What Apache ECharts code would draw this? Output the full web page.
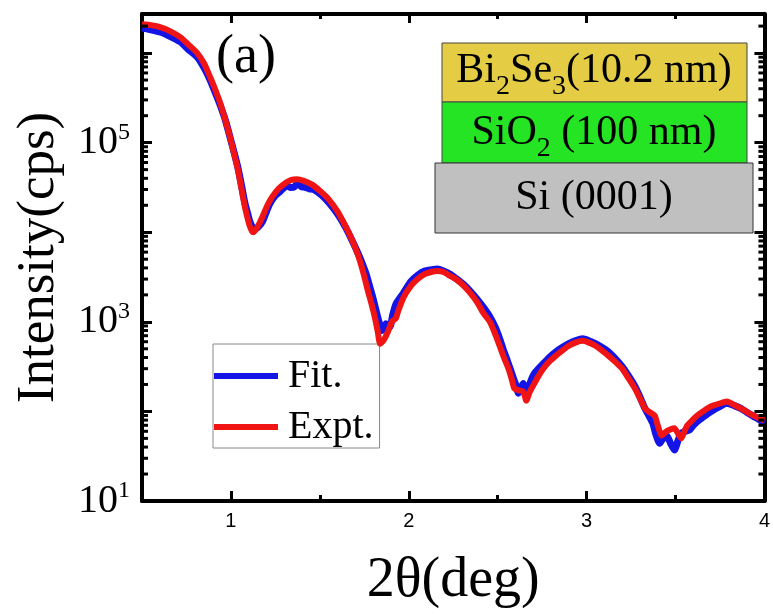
<!DOCTYPE html>
<html>
<head>
<meta charset="utf-8">
<script src="https://cdn.jsdelivr.net/npm/echarts@6/dist/echarts.min.js"></script>
<style>
  html, body { margin: 0; padding: 0; background: #fff; }
  #chart { width: 773px; height: 614px; }
</style>
</head>
<body>
<div id="chart"></div>
<script>
// axis range
const xMin = 0.5;
const xMax = 4.0;
const yMin = 10;
const yMax = 2.73e6;

const xMajorTicks = [1, 2, 3, 4];
const xMinorTicks = [1.5, 2.5, 3.5];
const yLabelExps = [1, 3, 5];

// Expt. (red)
const exptX = [0.50, 0.55, 0.606, 0.66, 0.717, 0.76, 0.811, 0.85, 0.883, 0.91, 0.939, 0.97, 0.994, 1.02, 1.039, 1.06, 1.078, 1.095, 1.106, 1.118, 1.128, 1.15, 1.178, 1.205, 1.233, 1.27, 1.311, 1.34, 1.372, 1.41, 1.456, 1.50, 1.55, 1.60, 1.644, 1.68, 1.717, 1.745, 1.772, 1.79, 1.811, 1.825, 1.839, 1.86, 1.883, 1.905, 1.928, 1.939, 1.97, 2.011, 2.05, 2.089, 2.125, 2.161, 2.195, 2.233, 2.27, 2.311, 2.345, 2.383, 2.42, 2.456, 2.485, 2.511, 2.535, 2.561, 2.58, 2.594, 2.62, 2.644, 2.661, 2.68, 2.70, 2.725, 2.756, 2.79, 2.828, 2.865, 2.90, 2.94, 2.978, 3.01, 3.05, 3.085, 3.122, 3.16, 3.20, 3.235, 3.272, 3.30, 3.328, 3.355, 3.383, 3.40, 3.422, 3.45, 3.472, 3.494, 3.515, 3.533, 3.55, 3.567, 3.595, 3.622, 3.66, 3.70, 3.745, 3.789, 3.83, 3.867, 3.90, 3.939, 3.97, 4.0];
const exptY = [2.10e6, 2.05e6, 1.94e6, 1.75e6, 1.50e6, 1.25e6, 1.0e6, 7.6e5, 5.4e5, 4.0e5, 2.8e5, 1.75e5, 1.17e5, 7.2e4, 5.0e4, 3.0e4, 1.95e4, 1.4e4, 1.17e4, 1.03e4, 1.0e4, 1.15e4, 1.5e4, 2.0e4, 2.5e4, 3.1e4, 3.6e4, 3.85e4, 3.9e4, 3.75e4, 3.4e4, 2.9e4, 2.33e4, 1.7e4, 1.17e4, 8.3e3, 5.4e3, 3.5e3, 2.15e3, 1.6e3, 1.08e3, 790, 570, 630, 774, 1000, 1100, 1290, 1860, 2500, 3000, 3400, 3600, 3690, 3600, 3250, 2950, 2500, 2100, 1670, 1250, 1000, 740, 540, 400, 300, 225, 180, 172, 167, 132, 165, 195, 240, 300, 360, 420, 480, 540, 590, 615, 590, 540, 480, 420, 360, 300, 235, 180, 140, 108, 98, 90, 70, 54, 60, 63, 65, 56, 50, 60, 70, 80, 90, 102, 114, 122, 129, 118, 108, 99, 90, 84, 79];

// Fit. (blue)
const fitX = [0.50, 0.55, 0.606, 0.66, 0.717, 0.76, 0.811, 0.85, 0.883, 0.91, 0.939, 0.97, 0.994, 1.02, 1.039, 1.06, 1.078, 1.095, 1.106, 1.12, 1.133, 1.155, 1.178, 1.20, 1.217, 1.245, 1.272, 1.295, 1.317, 1.336, 1.356, 1.37, 1.383, 1.40, 1.411, 1.44, 1.467, 1.51, 1.55, 1.60, 1.644, 1.68, 1.717, 1.74, 1.761, 1.78, 1.80, 1.828, 1.85, 1.872, 1.894, 1.91, 1.928, 1.967, 2.011, 2.05, 2.089, 2.125, 2.161, 2.195, 2.233, 2.27, 2.311, 2.345, 2.383, 2.42, 2.456, 2.485, 2.511, 2.53, 2.55, 2.57, 2.589, 2.605, 2.617, 2.632, 2.644, 2.655, 2.667, 2.685, 2.706, 2.73, 2.756, 2.79, 2.828, 2.865, 2.90, 2.94, 2.978, 3.01, 3.05, 3.085, 3.122, 3.16, 3.20, 3.235, 3.272, 3.30, 3.328, 3.35, 3.372, 3.39, 3.411, 3.43, 3.45, 3.47, 3.494, 3.515, 3.533, 3.555, 3.578, 3.60, 3.622, 3.66, 3.70, 3.745, 3.789, 3.83, 3.867, 3.90, 3.939, 3.97, 4.0];
const fitY = [1.90e6, 1.82e6, 1.71e6, 1.53e6, 1.33e6, 1.10e6, 9.0e5, 6.8e5, 5.0e5, 3.7e5, 2.64e5, 1.75e5, 1.17e5, 7.5e4, 5.3e4, 3.3e4, 2.15e4, 1.6e4, 1.32e4, 1.15e4, 1.08e4, 1.15e4, 1.32e4, 1.7e4, 2.05e4, 2.5e4, 2.8e4, 3.1e4, 3.3e4, 3.15e4, 3.2e4, 3.45e4, 3.4e4, 3.2e4, 3.2e4, 3.05e4, 3.0e4, 2.6e4, 2.15e4, 1.6e4, 1.14e4, 8.2e3, 5.7e3, 4.4e3, 3.4e3, 2.5e3, 1.8e3, 1.08e3, 800, 950, 880, 1200, 1580, 2050, 2800, 3300, 3690, 3800, 3880, 3700, 3400, 3000, 2580, 2200, 1800, 1450, 1140, 880, 650, 500, 390, 300, 233, 190, 160, 185, 205, 180, 160, 215, 264, 300, 341, 400, 464, 520, 570, 620, 648, 620, 570, 520, 464, 390, 316, 250, 190, 145, 108, 90, 74, 55, 44, 50, 54, 45, 37, 48, 57, 60, 62, 70, 77, 88, 100, 112, 123, 116, 108, 98, 88, 81, 74];

const zip = (xs, ys) => xs.map((x, i) => [x, ys[i]]);

// log minor ticks (2..9 per decade)
const yMinor = [];
for (let e = 1; e <= 6; e++) {
  for (let m = 2; m <= 9; m++) {
    const v = m * Math.pow(10, e);
    if (v < yMax) yMinor.push([xMin, v]);
  }
}

const serif = "'Liberation Serif', 'Times New Roman', serif";
const axisLine = { show: true, lineStyle: { color: '#000', width: 4 } };

const baseX = {
  type: 'value', min: xMin, max: xMax, interval: 0.5,
  splitLine: { show: false },
};

const chart = echarts.init(document.getElementById('chart'));
chart.setOption({
  animation: false,
  backgroundColor: '#fff',
  grid: { left: 142, right: 2, top: 14, bottom: 111 },
  legend: {
    data: ['Fit.', 'Expt.'],
    orient: 'vertical',
    left: 213, top: 344,
    padding: [12, 6, 1, 1],
    itemGap: 11,
    itemWidth: 64, itemHeight: 6,
    icon: 'rect',
    borderColor: '#888', borderWidth: 1,
    backgroundColor: '#fff',
    textStyle: { fontFamily: serif, fontSize: 40, color: '#000', padding: [0, 0, 0, 5] }
  },
  xAxis: [
    Object.assign({}, baseX, {
      position: 'bottom',
      axisLine: axisLine,
      axisTick: { inside: true, length: 10, lineStyle: { color: '#000', width: 3 }, customValues: xMajorTicks },
      axisLabel: { customValues: xMajorTicks, fontFamily: "'Liberation Sans', Arial, sans-serif", fontSize: 20, color: '#000', margin: 10 },
      name: '2θ(deg)', nameLocation: 'middle', nameGap: 52,
      nameTextStyle: { fontFamily: serif, fontSize: 56, color: '#000' }
    }),
    Object.assign({}, baseX, {
      position: 'bottom',
      axisLine: { show: false },
      axisTick: { inside: true, length: 6, lineStyle: { color: '#000', width: 3 }, customValues: xMinorTicks },
      axisLabel: { show: false }
    }),
    Object.assign({}, baseX, {
      position: 'top',
      axisLine: axisLine,
      axisTick: { inside: true, length: 9, lineStyle: { color: '#000', width: 3 }, customValues: xMajorTicks },
      axisLabel: { show: false }
    }),
    Object.assign({}, baseX, {
      position: 'top',
      axisLine: { show: false },
      axisTick: { inside: true, length: 5, lineStyle: { color: '#000', width: 3 }, customValues: xMinorTicks },
      axisLabel: { show: false }
    })
  ],
  yAxis: [
    {
      type: 'log', logBase: 10, min: yMin, max: yMax, interval: 1,
      position: 'left',
      axisLine: axisLine,
      splitLine: { show: false },
      axisTick: { inside: true, length: 10, lineStyle: { color: '#000', width: 3 } },
      axisLabel: {
        margin: 12,
        formatter: (v) => {
          const l = Math.log10(v);
          const e = Math.round(l);
          if (Math.abs(l - e) > 0.01 || yLabelExps.indexOf(e) < 0) return '';
          return '{b|10}{s|' + e + '}';
        },
        rich: {
          b: { fontFamily: serif, fontSize: 40, lineHeight: 44, color: '#000' },
          s: { fontFamily: serif, fontSize: 24, lineHeight: 24, verticalAlign: 'top', color: '#000' }
        }
      },
      name: 'Intensity(cps)', nameLocation: 'middle', nameGap: 76,
      nameTextStyle: { fontFamily: serif, fontSize: 53, color: '#000' }
    },
    {
      type: 'log', logBase: 10, min: yMin, max: yMax, interval: 1,
      position: 'right',
      axisLine: axisLine,
      splitLine: { show: false },
      axisTick: { inside: true, length: 10, lineStyle: { color: '#000', width: 3 } },
      axisLabel: { show: false }
    }
  ],
  series: [
    {
      name: 'Fit.', type: 'line', data: zip(fitX, fitY),
      showSymbol: false, smooth: 0.2, color: '#1414e6',
      lineStyle: { width: 7, color: '#1414e6' }, z: 3
    },
    {
      name: 'Expt.', type: 'line', data: zip(exptX, exptY),
      showSymbol: false, smooth: 0.2, color: '#f01414',
      lineStyle: { width: 6, color: '#f01414' }, z: 4
    },
    {
      type: 'custom', data: yMinor, silent: true, z: 5,
      renderItem: (params, api) => {
        const v = api.value(1);
        const pL = api.coord([xMin, v]);
        const pR = api.coord([xMax, v]);
        return {
          type: 'group',
          children: [
            { type: 'line', shape: { x1: pL[0], y1: pL[1], x2: pL[0] + 6, y2: pL[1] }, style: { stroke: '#000', lineWidth: 3 } },
            { type: 'line', shape: { x1: pR[0], y1: pR[1], x2: pR[0] - 6, y2: pR[1] }, style: { stroke: '#000', lineWidth: 3 } }
          ]
        };
      }
    }
  ],
  graphic: [
    { type: 'text', left: 216, top: 31, style: { text: '(a)', font: '54px ' + serif, fill: '#000' } },
    { type: 'rect', shape: { x: 442, y: 43, width: 305, height: 59 }, style: { fill: '#e4cd45', stroke: '#444', lineWidth: 1 } },
    { type: 'rect', shape: { x: 442, y: 102, width: 305, height: 61 }, style: { fill: '#24e424', stroke: '#444', lineWidth: 1 } },
    { type: 'rect', shape: { x: 435, y: 163, width: 318, height: 70 }, style: { fill: '#c0c0c0', stroke: '#333', lineWidth: 1 } },
    {
      type: 'text', x: 594, y: 71,
      style: {
        text: '{m|Bi}{s|2}{m|Se}{s|3}{m|(10.2 nm)}', align: 'center', verticalAlign: 'middle',
        rich: {
          m: { fontFamily: serif, fontSize: 42, lineHeight: 60, fill: '#000' },
          s: { fontFamily: serif, fontSize: 28, lineHeight: 28, verticalAlign: 'bottom', fill: '#000' }
        }
      }
    },
    {
      type: 'text', x: 594, y: 133,
      style: {
        text: '{m|SiO}{s|2}{m| (100 nm)}', align: 'center', verticalAlign: 'middle',
        rich: {
          m: { fontFamily: serif, fontSize: 42, lineHeight: 60, fill: '#000' },
          s: { fontFamily: serif, fontSize: 28, lineHeight: 28, verticalAlign: 'bottom', fill: '#000' }
        }
      }
    },
    {
      type: 'text', x: 594, y: 198,
      style: { text: 'Si (0001)', align: 'center', verticalAlign: 'middle', font: '42px ' + serif, fill: '#000' }
    }
  ]
});
</script>
</body>
</html>
